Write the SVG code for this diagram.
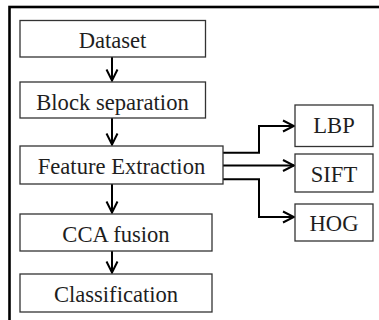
<svg xmlns="http://www.w3.org/2000/svg" width="379" height="320" viewBox="0 0 379 320">
<style>
.box{fill:#fff;stroke:#333;stroke-width:1.3}
.t{font-family:'Liberation Serif','Times New Roman',serif;font-size:22.6px;fill:#1e1e1e;text-anchor:middle}
.c{fill:none;stroke:#000;stroke-width:2}
</style>
<defs>
<marker id="ah" viewBox="-13 -7 15 14" markerWidth="15" markerHeight="14" refX="0" refY="0" markerUnits="userSpaceOnUse" orient="auto">
<path d="M-11,-5.5 L0,0 L-11,5.5" fill="none" stroke="#000" stroke-width="2"/>
</marker>
</defs>
<rect width="379" height="320" fill="#fff"/>
<rect x="9.5" y="7" width="400" height="340" fill="none" stroke="#000" stroke-width="2.6"/>
<g id="connectors">
<line class="c" x1="112" y1="57" x2="112" y2="80.5" marker-end="url(#ah)"/>
<line class="c" x1="112" y1="118" x2="112" y2="144.5" marker-end="url(#ah)"/>
<line class="c" x1="112" y1="184" x2="112" y2="212.5" marker-end="url(#ah)"/>
<line class="c" x1="112" y1="251" x2="112" y2="272.5" marker-end="url(#ah)"/>
<path class="c" d="M223,152.7 H259 V126 H294" marker-end="url(#ah)"/>
<path class="c" d="M223,165.5 H294" marker-end="url(#ah)"/>
<path class="c" d="M223,179.3 H259 V217 H294" marker-end="url(#ah)"/>
</g>
<g id="dataset"><rect class="box" x="20" y="20.5" width="185.5" height="36.5"/><text class="t" x="112.5" y="48.3">Dataset</text></g>
<g id="block"><rect class="box" x="20" y="82" width="185.5" height="36"/><text class="t" x="112.5" y="110">Block separation</text></g>
<g id="feature"><rect class="box" x="20" y="146" width="203" height="38"/><text class="t" x="121.5" y="174">Feature Extraction</text></g>
<g id="cca"><rect class="box" x="20" y="214" width="192" height="37"/><text class="t" x="116" y="241.7">CCA fusion</text></g>
<g id="classification"><rect class="box" x="20" y="274" width="192" height="38"/><text class="t" x="116" y="301.7">Classification</text></g>
<g id="lbp"><rect class="box" x="295" y="105" width="78" height="41.5"/><text class="t" x="334" y="133.3">LBP</text></g>
<g id="sift"><rect class="box" x="295" y="154" width="78" height="38"/><text class="t" x="334" y="181.7">SIFT</text></g>
<g id="hog"><rect class="box" x="295" y="204" width="78" height="37"/><text class="t" x="334" y="231">HOG</text></g>
</svg>
